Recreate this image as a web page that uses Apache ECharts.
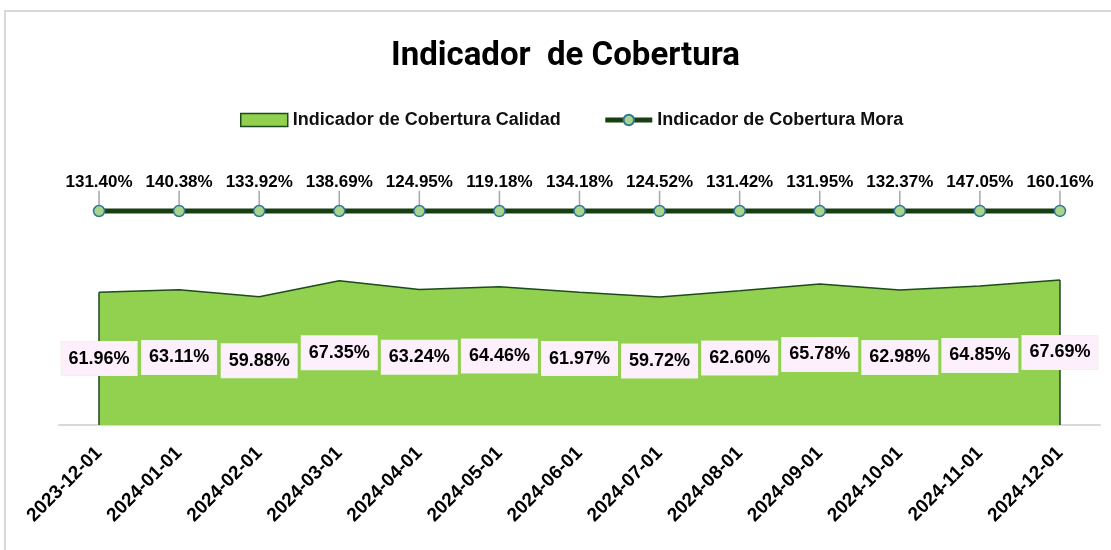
<!DOCTYPE html>
<html>
<head>
<meta charset="utf-8">
<script src="https://cdn.jsdelivr.net/npm/echarts@6/dist/echarts.min.js"></script>
<style>
  html, body { margin: 0; padding: 0; background: #fff; }
  #main { width: 1111px; height: 550px; }
</style>
</head>
<body>
<div id="main"></div>
<script>
// data
let categories = [
  '2023-12-01', '2024-01-01', '2024-02-01', '2024-03-01', '2024-04-01',
  '2024-05-01', '2024-06-01', '2024-07-01', '2024-08-01', '2024-09-01',
  '2024-10-01', '2024-11-01', '2024-12-01'
];
let calidad = [61.96, 63.11, 59.88, 67.35, 63.24, 64.46, 61.97, 59.72, 62.60, 65.78, 62.98, 64.85, 67.69];
let mora = [131.40, 140.38, 133.92, 138.69, 124.95, 119.18, 134.18, 124.52, 131.42, 131.95, 132.37, 147.05, 160.16];

let nameCalidad = 'Indicador de Cobertura Calidad';
let nameMora = 'Indicador de Cobertura Mora';

let myChart = echarts.init(document.getElementById('main'));

let pct = function (v) { return v.toFixed(2) + '%'; };
let last = categories.length - 1;

let option = {
  animation: false,
  title: {
    text: 'Indicador  de Cobertura',
    left: 386,
    top: 35,
    textStyle: {
      fontFamily: 'Roboto, sans-serif',
      fontSize: 33,
      fontWeight: 'bold',
      color: '#000'
    }
  },
  legend: {
    top: 106,
    left: 235,
    itemWidth: 47,
    itemHeight: 13,
    itemGap: 42,
    textStyle: {
      fontFamily: '"Liberation Sans", Arial, sans-serif',
      fontSize: 18,
      fontWeight: 'bold',
      color: '#111'
    },
    data: [
      { name: nameCalidad, icon: 'rect', itemStyle: { color: '#92d050', borderColor: '#1e4a1e', borderWidth: 1.5 } },
      { name: nameMora, lineStyle: { color: '#173f12', width: 5 } }
    ]
  },
  graphic: [{
    type: 'rect',
    shape: { x: 5, y: 11, width: 1200, height: 600 },
    style: { fill: 'none', stroke: '#d9d9d9', lineWidth: 2 },
    silent: true
  }],
  grid: { left: 59, right: 11, top: 125, bottom: 125 },
  xAxis: {
    type: 'category',
    data: categories,
    boundaryGap: true,
    axisLine: { lineStyle: { color: '#d9d9d9', width: 2 } },
    axisTick: { show: false },
    axisLabel: {
      rotate: 45,
      margin: 25,
      interval: 0,
      fontFamily: '"Liberation Sans", Arial, sans-serif',
      fontSize: 19,
      fontWeight: 'bold',
      color: '#000'
    }
  },
  yAxis: [
    { type: 'value', min: 0, max: 140, show: false, splitLine: { show: false } },
    { type: 'value', min: -71200, max: 28800, show: false, splitLine: { show: false } }
  ],
  series: [
    {
      name: nameCalidad,
      type: 'line',
      data: calidad,
      yAxisIndex: 0,
      symbol: 'none',
      lineStyle: { color: '#1e4a1e', width: 1.5 },
      itemStyle: { color: '#92d050' },
      areaStyle: { color: '#92d050', opacity: 1 },
      z: 1,
      markLine: {
        symbol: 'none',
        silent: true,
        label: { show: false },
        lineStyle: { color: '#1e4a1e', width: 1.5, type: 'solid' },
        data: [
          [{ coord: [categories[0], 0] }, { coord: [categories[0], calidad[0]] }],
          [{ coord: [categories[last], 0] }, { coord: [categories[last], calidad[last]] }]
        ]
      }
    },
    {
      // carries the centred value labels of the area
      name: 'calidad-labels',
      type: 'scatter',
      data: calidad.map(function (v) { return v / 2; }),
      yAxisIndex: 0,
      symbolSize: 0,
      itemStyle: { opacity: 1 },
      z: 5,
      label: {
        show: true,
        position: 'inside',
        formatter: function (p) { return pct(calidad[p.dataIndex]); },
        fontFamily: '"Liberation Sans", Arial, sans-serif',
        fontSize: 18,
        fontWeight: 'bold',
        color: '#000',
        backgroundColor: '#fdf0fc',
        borderColor: '#eef6e8',
        borderWidth: 1,
        padding: [8, 7, 7, 7]
      }
    },
    {
      name: nameMora,
      type: 'line',
      data: mora,
      yAxisIndex: 1,
      symbol: 'circle',
      symbolSize: 11,
      showSymbol: true,
      lineStyle: { color: '#173f12', width: 5 },
      itemStyle: { color: '#a9d48e', borderColor: '#2f7896', borderWidth: 1.5 },
      z: 4,
      label: {
        show: true,
        position: 'top',
        distance: 4,
        formatter: function (p) { return pct(p.value); },
        fontFamily: '"Liberation Sans", Arial, sans-serif',
        fontSize: 17,
        fontWeight: 'bold',
        color: '#000'
      },
      labelLayout: { dy: -10 },
      labelLine: { show: true, lineStyle: { color: '#a6a6a6', width: 1.5 } }
    }
  ]
};

myChart.setOption(option);
</script>
</body>
</html>
